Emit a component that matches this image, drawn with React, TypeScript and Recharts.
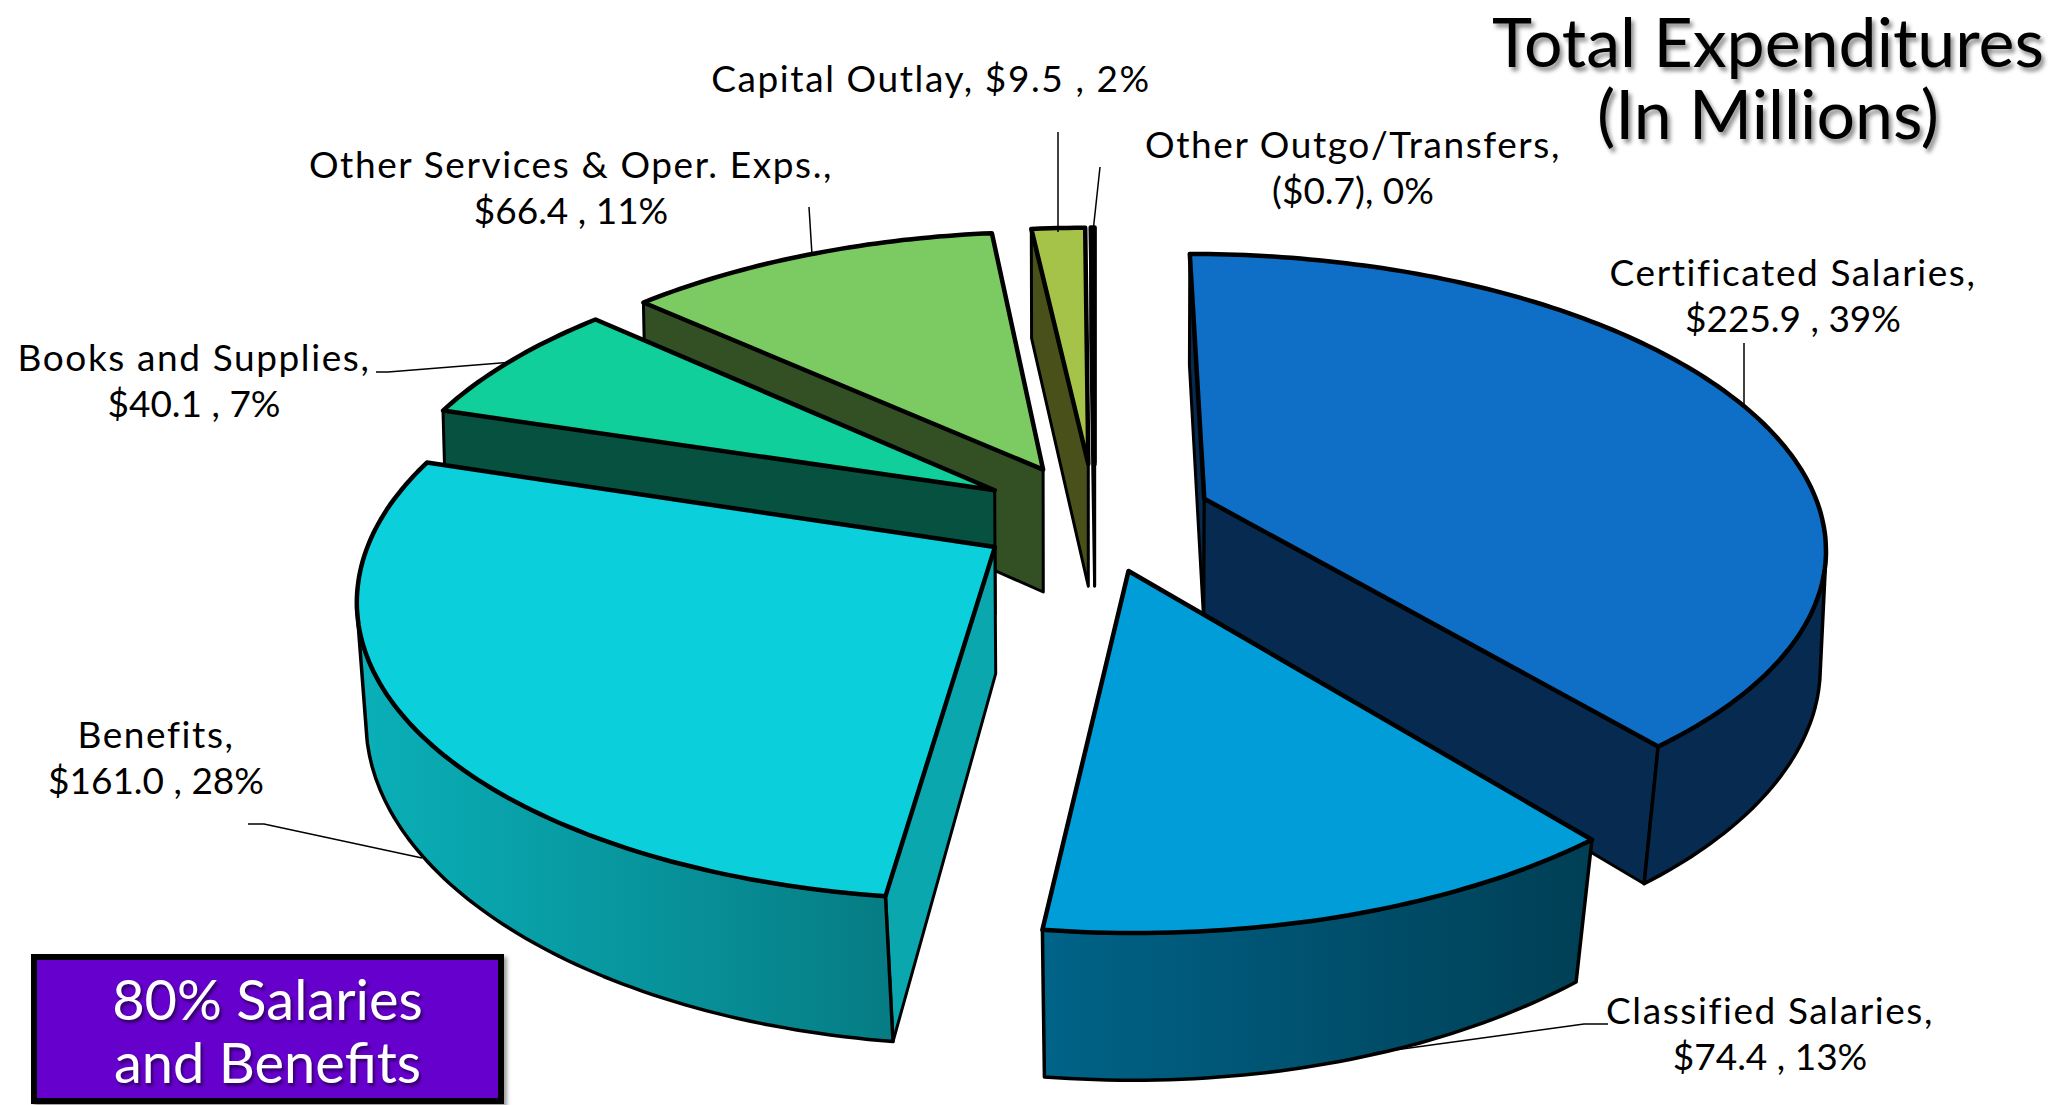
import { Pie, PieChart } from "recharts";

const categories = [
  "Certificated Salaries",
  "Classified Salaries",
  "Benefits",
  "Books and Supplies",
  "Other Services & Oper. Exps.",
  "Capital Outlay",
  "Other Outgo/Transfers",
];
const expenditures = [225.9, 74.4, 161.0, 40.1, 66.4, 9.5, -0.7];

const topColors = ["#0F6FC6", "#009DD9", "#0BCFDB", "#10CF9B", "#7CCA62", "#A5C249", "#0A3A66"];
const sideColors = ["#062A50", "#003F56", "#0AA7AE", "#06513F", "#335025", "#4A5019", "#04101C"];
const rimStart = ["#062A50", "#006388", "#0AB0B8", "#06513F", "#335025", "#4A5019", "#04101C"];
const rimEnd = ["#062A50", "#003F55", "#067C84", "#06513F", "#335025", "#4A5019", "#04101C"];

// back to front, the pie paints in this order
const drawOrder = [5, 6, 4, 3, 0, 2, 1];

const labelCenters = [
  [1793, 273],
  [1770, 1011],
  [156, 735],
  [194, 358],
  [571, 165],
  [931, 79],
  [1353, 145],
];
const leaderLines = [
  [[1744, 343], [1744, 405]],
  [[1608, 1024], [1584, 1024], [1373, 1053]],
  [[248, 824], [264, 824], [422, 858]],
  [[376, 372], [388, 372], [512, 362]],
  [[809, 207], [812, 255]],
  [[1058, 132], [1058, 232]],
  [[1100, 167], [1093, 232]],
];

const FONT = "Lato, 'Open Sans', sans-serif";
const TILT = 0.459;
const PERSPECTIVE = 0.154;
const EXPLODE = 119;
const DEPTH = 125;
const X_SCALE = 0.985;

type Pt = [number, number];

const chartData = categories.map((name, i) => ({
  name,
  value: expenditures[i],
  amount: Math.abs(expenditures[i]),
}));

function makeProjector(cx: number, cy: number, radius: number, midAngle: number) {
  const mid = (midAngle * Math.PI) / 180;
  const ox = (EXPLODE / radius) * Math.cos(mid);
  const oy = (EXPLODE / radius) * Math.sin(mid);
  return (x: number, y: number, bottom: boolean): Pt => {
    const px = x + ox;
    const py = y + oy;
    const f = 1 / (1 + PERSPECTIVE * py);
    // the underside pulls in a little, more so toward the viewer
    const shrink = bottom ? 1 - 0.005 - 0.028 * Math.max(0, -py) : 1;
    const sx = cx + px * radius * X_SCALE * f * shrink;
    const sy = cy - TILT * py * radius * f + (bottom ? DEPTH * (1 + (f - 1) * 0.8) : 0);
    return [sx, sy];
  };
}

const toPoints = (pts: Pt[]) => pts.map((p) => `${p[0].toFixed(1)},${p[1].toFixed(1)}`).join(" ");

// walking the slice edge clockwise, a wall faces the viewer when this is negative
function wallArea(a: Pt, b: Pt, c: Pt, d: Pt) {
  const q = [a, b, c, d];
  let sum = 0;
  for (let i = 0; i < 4; i++) {
    const n = q[(i + 1) % 4];
    sum += q[i][0] * n[1] - n[0] * q[i][1];
  }
  return sum;
}

function SliceShape(props: any, slice: number) {
  const index = categories.indexOf(props.name);
  if (index !== slice) return <g />;
  const { cx, cy, outerRadius, startAngle, endAngle, midAngle } = props;
  const project = makeProjector(cx, cy, outerRadius, midAngle);
  const steps = Math.max(2, Math.ceil(Math.abs(endAngle - startAngle)));
  const arc: Pt[] = [];
  for (let s = 0; s <= steps; s++) {
    const a = ((startAngle + ((endAngle - startAngle) * s) / steps) * Math.PI) / 180;
    arc.push([Math.cos(a), Math.sin(a)]);
  }
  const arcTop = arc.map((p) => project(p[0], p[1], false));
  const arcBottom = arc.map((p) => project(p[0], p[1], true));
  const apexTop = project(0, 0, false);
  const apexBottom = project(0, 0, true);
  const last = arcTop.length - 1;
  const gradientId = `rim-${index}`;

  const rimTop: Pt[] = [];
  const rimBottom: Pt[] = [];
  for (let s = 0; s < last; s++) {
    if (wallArea(arcTop[s], arcTop[s + 1], arcBottom[s + 1], arcBottom[s]) < 0) {
      if (!rimTop.length) {
        rimTop.push(arcTop[s]);
        rimBottom.push(arcBottom[s]);
      }
      rimTop.push(arcTop[s + 1]);
      rimBottom.push(arcBottom[s + 1]);
    }
  }
  const showStartWall = wallArea(apexTop, arcTop[0], arcBottom[0], apexBottom) < 0;
  const showEndWall = wallArea(arcTop[last], apexTop, apexBottom, arcBottom[last]) < 0;

  return (
    <g stroke="#000" strokeLinejoin="round">
      <defs>
        <linearGradient id={gradientId} x1="0" y1="0" x2="1" y2="0">
          <stop offset="0%" stopColor={rimStart[index]} />
          <stop offset="100%" stopColor={rimEnd[index]} />
        </linearGradient>
      </defs>
      {showStartWall && (
        <polygon
          points={toPoints([apexTop, arcTop[0], arcBottom[0], apexBottom])}
          fill={sideColors[index]}
          strokeWidth={3}
        />
      )}
      {showEndWall && (
        <polygon
          points={toPoints([apexTop, arcTop[last], arcBottom[last], apexBottom])}
          fill={sideColors[index]}
          strokeWidth={3}
        />
      )}
      {rimTop.length > 0 && (
        <polygon
          points={toPoints([...rimTop, ...rimBottom.slice().reverse()])}
          fill={`url(#${gradientId})`}
          strokeWidth={3.5}
        />
      )}
      <polygon points={toPoints([apexTop, ...arcTop])} fill={topColors[index]} strokeWidth={4.5} />
    </g>
  );
}

function renderLabel(props: any) {
  const index = categories.indexOf(props.name);
  const value = expenditures[index];
  const pct = `${Math.round(props.percent * 100)}%`;
  const amount = value < 0 ? `($${Math.abs(value).toFixed(1)}), ${pct}` : `$${value.toFixed(1)} , ${pct}`;
  const [x, y] = labelCenters[index];
  const lines = index === 5 ? [`${props.name}, ${amount}`] : [`${props.name},`, amount];
  return (
    <g key={index}>
      <polyline
        points={leaderLines[index].map((p) => p.join(",")).join(" ")}
        fill="none"
        stroke="#000"
        strokeWidth={1.5}
      />
      <text textAnchor="middle" fontFamily={FONT} fontSize={37} fill="#000">
        {lines.map((line, i) => (
          <tspan key={i} x={x} y={y + 13 + i * 46} letterSpacing={i === 0 ? 1.6 : 0}>
            {line}
          </tspan>
        ))}
      </text>
    </g>
  );
}

export default function App() {
  return (
    <div style={{ position: "absolute", left: 0, top: 0, width: 2070, height: 1105, background: "#fff", overflow: "hidden" }}>
      <PieChart width={2070} height={1105} margin={{ top: 0, right: 0, bottom: 0, left: 0 }}>
        {drawOrder.map((slice, i) => (
          <Pie
            key={slice}
            data={chartData}
            dataKey="amount"
            nameKey="name"
            cx={1095}
            cy={517}
            outerRadius={627}
            startAngle={90}
            endAngle={-270}
            isAnimationActive={false}
            stroke="none"
            legendType="none"
            shape={(p: any) => SliceShape(p, slice)}
            label={i === drawOrder.length - 1 ? renderLabel : false}
            labelLine={false}
          />
        ))}
      </PieChart>
      <div
        style={{
          position: "absolute",
          left: 1466,
          width: 604,
          top: 5,
          textAlign: "center",
          fontFamily: FONT,
          fontSize: 68,
          lineHeight: "72px",
          color: "#000",
          textShadow: "3px 4px 4px rgba(0,0,0,0.45)",
        }}
      >
        Total Expenditures
        <br />
        (In Millions)
      </div>
      <div
        style={{
          position: "absolute",
          left: 31,
          top: 954,
          width: 473,
          height: 150,
          boxSizing: "border-box",
          border: "6px solid #000",
          background: "#6600CC",
          boxShadow: "3px 3px 4px rgba(0,0,0,0.4)",
          color: "#fff",
          fontFamily: FONT,
          fontSize: 56,
          lineHeight: "63px",
          textAlign: "center",
          paddingTop: 7,
          textShadow: "2px 3px 3px rgba(0,0,0,0.5)",
        }}
      >
        80% Salaries
        <br />
        and Benefits
      </div>
    </div>
  );
}
